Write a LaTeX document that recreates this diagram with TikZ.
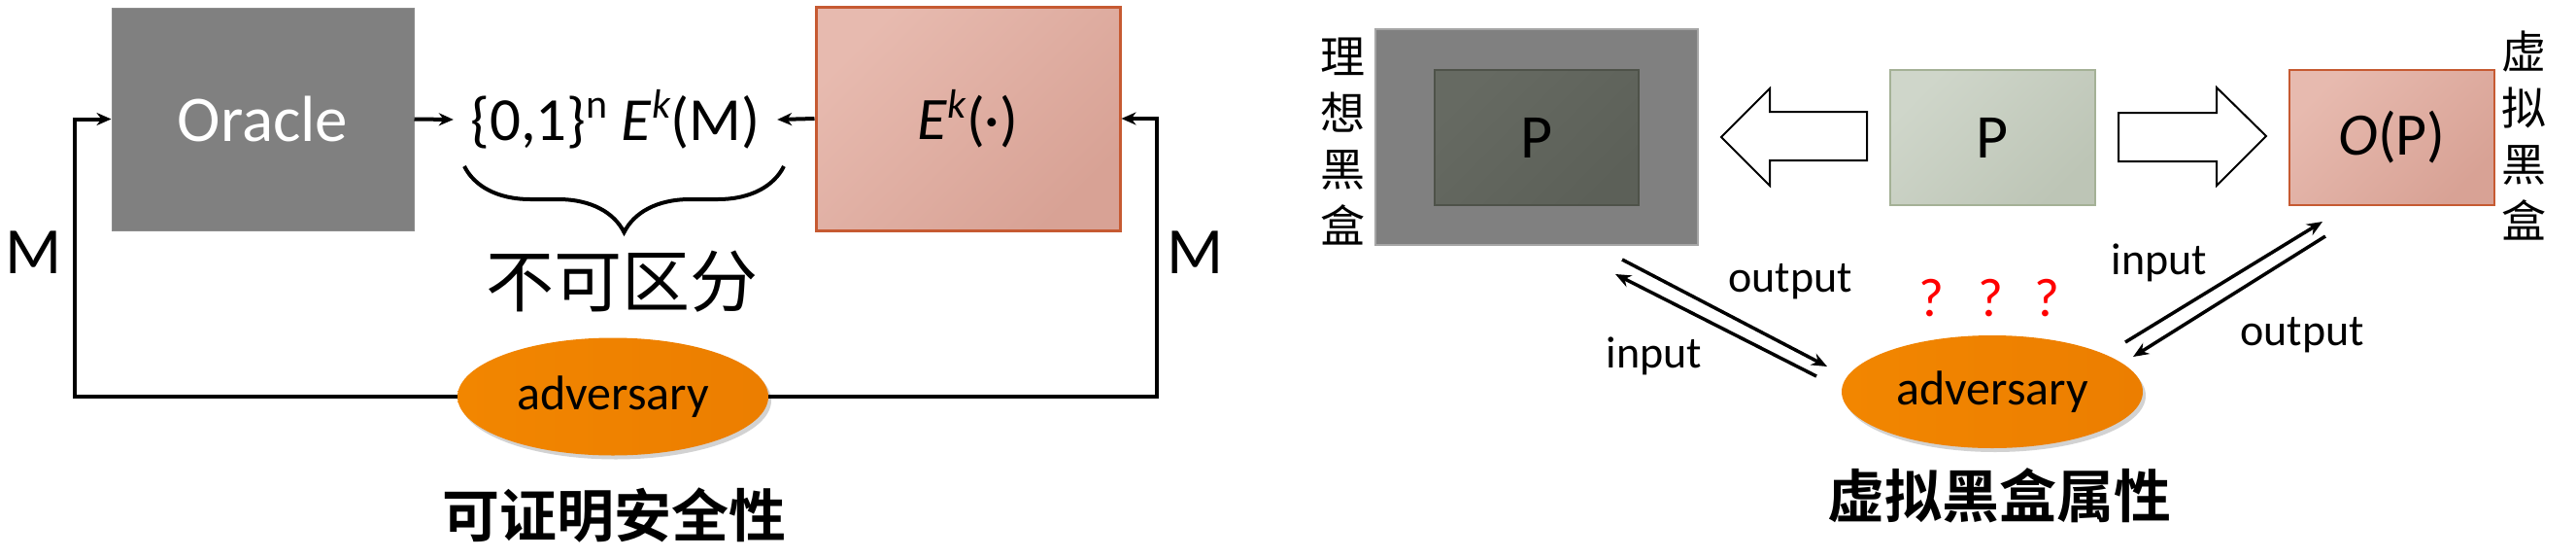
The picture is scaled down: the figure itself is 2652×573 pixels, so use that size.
\documentclass[tikz,border=0pt]{standalone}
\usepackage{fontspec}
\setmainfont{Carlito}
\newfontfamily\cjk{Noto Sans CJK SC}[BoldFont={Noto Sans CJK SC Bold}]
\usetikzlibrary{arrows.meta,shadows,decorations.pathreplacing,shapes.geometric,calc}
\newcommand\fsz[1]{\fontsize{#1}{#1}\selectfont}
\definecolor{oraclegray}{HTML}{808080}
\definecolor{pinkA}{HTML}{E7BAAF}
\definecolor{pinkB}{HTML}{D8A295}
\definecolor{pinkline}{HTML}{C65A32}
\definecolor{innerA}{HTML}{666A62}
\definecolor{innerB}{HTML}{5C6058}
\definecolor{innerline}{HTML}{4E5249}
\definecolor{greenA}{HTML}{CFD6CA}
\definecolor{greenB}{HTML}{BDC5B6}
\definecolor{greenline}{HTML}{A4B196}
\definecolor{advA}{HTML}{F28600}
\definecolor{advB}{HTML}{EC7E00}
\definecolor{qred}{HTML}{FF0000}
\tikzset{
  graybox/.style={rectangle, fill=oraclegray, draw=oraclegray!90!white, line width=1pt, inner sep=0pt},
  pinkbox/.style={rectangle, top color=pinkA, bottom color=pinkB, shading angle=45, draw=pinkline, line width=3pt, inner sep=0pt},
  idealouter/.style={rectangle, fill=oraclegray, draw=oraclegray!70!white, line width=1.5pt, inner sep=0pt},
  idealinner/.style={rectangle, top color=innerA, bottom color=innerB, shading angle=45, draw=innerline, line width=2pt, inner sep=0pt},
  greenbox/.style={rectangle, top color=greenA, bottom color=greenB, shading angle=45, draw=greenline, line width=2.5pt, inner sep=0pt},
  advsty/.style={ellipse, left color=advA, right color=advB, draw=none, inner sep=0pt,
     drop shadow={shadow xshift=3pt, shadow yshift=-4pt, opacity=.35}},
  conn/.style={line width=4pt, -{Stealth[length=15pt,width=13pt]}, line join=miter},
  thin conn/.style={line width=3.5pt, -{Stealth[length=16pt,width=13pt]}},
  hollow/.style={draw=black, line width=2pt, fill=white, line join=miter},
  bracesty/.style={decorate, decoration={brace, amplitude=68pt, mirror}, line width=4pt},
  lbl/.style={inner sep=0pt},
  vlabel/.style={inner sep=0pt, align=center, font={\cjk\fontsize{46}{58}\selectfont}},
}
\begin{document}
\begin{tikzpicture}[x=1pt,y=-1pt]
\useasboundingbox (0,0) rectangle (2652,573);
\fill[white] (0,0) rectangle (2652,573);

% ---------- left half ----------
\node[graybox, minimum width=311pt, minimum height=229pt] (oracle) at (270.5,122.5) {\color{white}\fsz{67}Oracle};
\node[pinkbox, minimum width=313pt, minimum height=230pt] (ek) at (996.5,122) {\fsz{62}\textit{E}\raisebox{.36em}{\fsz{42}\textit{k}}(·)};
\node[lbl, minimum width=333pt, minimum height=70pt] (bits) at (633.5,123) {\fsz{63}\{0,1\}\raisebox{.36em}{\fsz{42}n} \textit{E}\raisebox{.36em}{\fsz{42}\textit{k}}(M)};
\node[advsty, minimum width=320pt, minimum height=121pt] (adv) at (631,408) {\fsz{50}adversary};
\node[lbl] (indist) at (640,290) {\cjk\fsz{70}不可区分};
\node[lbl] (ml) at (35,260) {\fsz{68}M};
\node[lbl] (mr) at (1231,260) {\fsz{68}M};
\node[lbl] (t1) at (632,530) {\cjk\bfseries\fsz{59}可证明安全性};

\coordinate (lc) at (77,408);
\coordinate (rc) at (1191,408);
\coordinate (bl) at (478,171);
\coordinate (br) at (807,171);

\draw[conn] (oracle.east) -- (bits.west);
\draw[conn] (ek.west) -- (bits.east);
\draw[conn] (adv.west) -- (lc) |- (oracle.west);
\draw[conn] (adv.east) -- (rc) |- (ek.east);
\draw[bracesty] (bl) -- (br);

% ---------- right half ----------
\node[idealouter, minimum width=332pt, minimum height=222pt] (io) at (1582,141) {};
\node[idealinner, minimum width=210pt, minimum height=139pt] (ip) at (1582,141.5) {\fsz{64}P};
\node[greenbox, minimum width=211pt, minimum height=139pt] (mp) at (2051.5,141.5) {\fsz{64}P};
\node[pinkbox, line width=2.5pt, minimum width=211pt, minimum height=139pt] (op) at (2462.5,141.5) {\fsz{62}\textit{O}(P)};
\node[vlabel] (vl) at (1382,146) {理\\想\\黑\\盒};
\node[vlabel] (vr) at (2598,139) {虚\\拟\\黑\\盒};
\node[advsty, minimum width=310pt, minimum height=116pt] (adv2) at (2051,403) {\fsz{50}adversary};
\node[lbl] (t2) at (2058,510) {\cjk\bfseries\fsz{59}虚拟黑盒属性};

% hollow block arrows
\draw[hollow] (1772,141) -- (1822,91) -- (1822,115) -- (1922,115) -- (1922,165) -- (1822,165) -- (1822,191) -- cycle;
\draw[hollow] (2333,140) -- (2282,90) -- (2282,116) -- (2181,116) -- (2181,166) -- (2282,166) -- (2282,191) -- cycle;

% input / output arrows
\coordinate (a1s) at (1670,267);
\coordinate (a1e) at (1881,377);
\coordinate (a2s) at (1870,387);
\coordinate (a2e) at (1663,282);
\coordinate (a3s) at (2188,352);
\coordinate (a3e) at (2391,228);
\coordinate (a4s) at (2394,243);
\coordinate (a4e) at (2196,367);
\draw[thin conn] (a1s) -- (a1e);
\draw[thin conn] (a2s) -- (a2e);
\draw[thin conn] (a3s) -- (a3e);
\draw[thin conn] (a4s) -- (a4e);

\node[lbl] (out1) at (1843,290) {\fsz{46}output};
\node[lbl] (in1) at (1703,366) {\fsz{46}input};
\node[lbl] (in2) at (2223,270) {\fsz{46}input};
\node[lbl] (out2) at (2370,345) {\fsz{46}output};

\node[lbl, text=qred] (q1) at (1988,307) {\fsz{56}?};
\node[lbl, text=qred] (q2) at (2049,307) {\fsz{56}?};
\node[lbl, text=qred] (q3) at (2107,307) {\fsz{56}?};
\end{tikzpicture}
\end{document}
